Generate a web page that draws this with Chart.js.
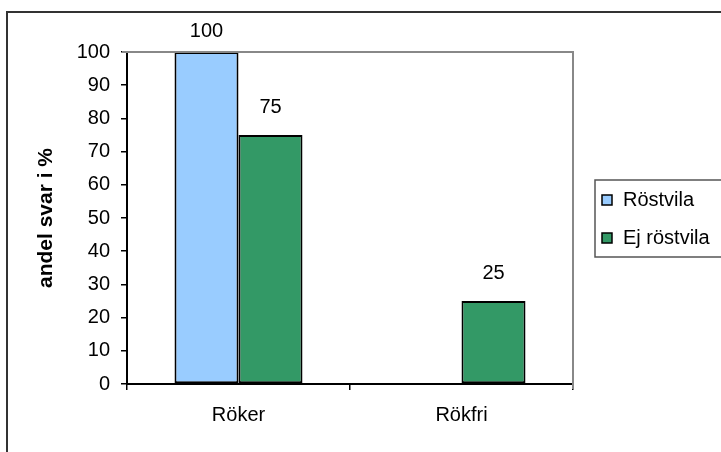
<!DOCTYPE html>
<html>
<head>
<meta charset="utf-8">
<script src="https://cdn.jsdelivr.net/npm/chart.js@4/dist/chart.umd.min.js"></script>
<style>
  html, body { margin: 0; padding: 0; background: #fff; }
  #wrap { width: 721px; height: 452px; }
</style>
</head>
<body>
<div id="wrap"><canvas id="c" width="721" height="452"></canvas></div>
<script>
// Survey answers: share (%) with voice rest among smokers / non-smokers
const categories = ['Röker', 'Rökfri'];
const seriesNames = ['Röstvila', 'Ej röstvila'];
const rostvila = [100, null];
const ejRostvila = [75, 25];
const yTicks = [0, 10, 20, 30, 40, 50, 60, 70, 80, 90, 100];

const FONT = "'Liberation Sans', Arial, sans-serif";
const FS = 20;
const colors = ['#99CCFF', '#339966'];

// White background with the outer frame of the chart
const framePlugin = {
  id: 'frame',
  beforeDraw(chart) {
    const ctx = chart.ctx;
    ctx.save();
    ctx.fillStyle = '#fff';
    ctx.fillRect(0, 0, chart.width, chart.height);
    ctx.strokeStyle = '#333';
    ctx.lineWidth = 2;
    ctx.strokeRect(7, 12, chart.width + 20, chart.height + 20);
    ctx.restore();
  },
  // grey border on top and right of the plot area
  afterDatasetsDraw(chart) {
    const { ctx, chartArea: a } = chart;
    ctx.save();
    ctx.strokeStyle = '#888';
    ctx.lineWidth = 2;
    ctx.beginPath();
    ctx.moveTo(a.left - 5, a.top);
    ctx.lineTo(a.right, a.top);
    ctx.lineTo(a.right, a.bottom + 5);
    ctx.stroke();
    ctx.restore();
  }
};

// Value labels above each bar
const valueLabels = {
  id: 'valueLabels',
  afterDatasetsDraw(chart) {
    const ctx = chart.ctx;
    const top = chart.chartArea.top;
    ctx.save();
    ctx.fillStyle = '#000';
    ctx.font = FS + 'px ' + FONT;
    ctx.textAlign = 'center';
    ctx.textBaseline = 'middle';
    chart.data.datasets.forEach((ds, i) => {
      chart.getDatasetMeta(i).data.forEach((bar, j) => {
        const v = ds.data[j];
        if (v === null || v === undefined) return;
        const y = Math.max(bar.y - 28, top - 21);
        ctx.fillText(String(v), bar.x, y);
      });
    });
    ctx.restore();
  }
};

// Boxed legend on the right
const boxLegend = {
  id: 'boxLegend',
  afterDraw(chart) {
    const ctx = chart.ctx;
    const x0 = 595, y0 = 180, w = 140, h = 77;
    ctx.save();
    ctx.strokeStyle = '#555';
    ctx.lineWidth = 1.5;
    ctx.strokeRect(x0, y0, w, h);
    ctx.font = FS + 'px ' + FONT;
    ctx.textBaseline = 'middle';
    chart.data.datasets.forEach((ds, i) => {
      const cy = 200 + i * 38;
      ctx.fillStyle = ds.backgroundColor;
      ctx.fillRect(602, cy - 5, 10, 10);
      ctx.strokeStyle = '#000';
      ctx.lineWidth = 1.5;
      ctx.strokeRect(602, cy - 5, 10, 10);
      ctx.fillStyle = '#000';
      ctx.fillText(ds.label, 623, cy);
    });
    ctx.restore();
  }
};

new Chart(document.getElementById('c'), {
  type: 'bar',
  data: {
    labels: categories,
    datasets: [
      { label: seriesNames[0], data: rostvila, backgroundColor: colors[0],
        borderColor: '#000', borderWidth: 2, borderSkipped: false },
      { label: seriesNames[1], data: ejRostvila, backgroundColor: colors[1],
        borderColor: '#000', borderWidth: 2, borderSkipped: false }
    ]
  },
  options: {
    responsive: false,
    animation: false,
    devicePixelRatio: 1,
    layout: { padding: { top: 52, right: 148, left: 0, bottom: 0 } },
    datasets: { bar: { categoryPercentage: 0.574, barPercentage: 1.0 } },
    plugins: {
      legend: { display: false },
      tooltip: { enabled: false }
    },
    scales: {
      x: {
        grid: { offset: true, drawOnChartArea: false, tickLength: 6, color: '#000', lineWidth: 1.5 },
        border: { color: '#000', width: 2 },
        ticks: { color: '#000', font: { family: FONT, size: FS }, padding: 13 },
        afterFit(s) { s.height = 68; }
      },
      y: {
        min: 0, max: 100,
        afterBuildTicks(s) { s.ticks = yTicks.map(v => ({ value: v })); },
        grid: { drawOnChartArea: false, tickLength: 6, color: '#000', lineWidth: 1.5 },
        border: { color: '#000', width: 2 },
        ticks: { color: '#000', font: { family: FONT, size: FS }, padding: 11 },
        title: {
          display: true, text: 'andel svar i %', color: '#000',
          font: { family: FONT, size: 21, weight: 'bold' },
          padding: { top: 34, bottom: 0 }
        },
        afterFit(s) { s.width = 127; }
      }
    }
  },
  plugins: [framePlugin, valueLabels, boxLegend]
});
</script>
</body>
</html>
